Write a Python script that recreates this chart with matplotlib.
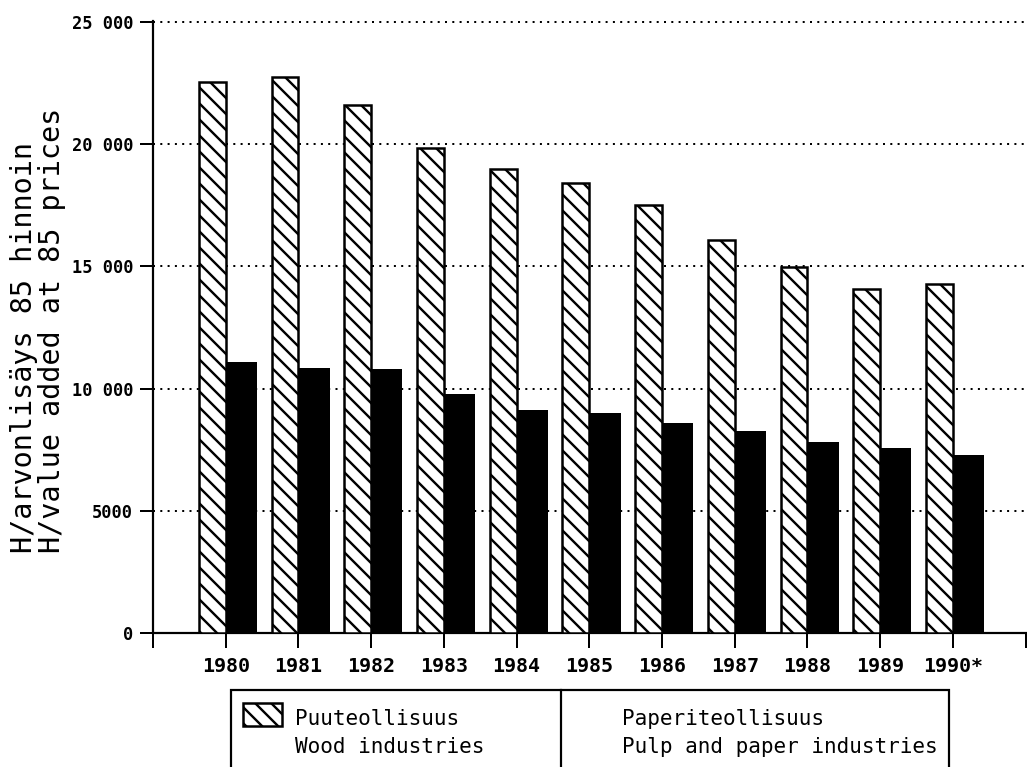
"""Arvonlisäys puu- ja paperiteollisuudessa 1980-1990 (85 hinnoin)."""
import matplotlib
matplotlib.use("Agg")
import matplotlib.pyplot as plt
from matplotlib.patches import Rectangle
from matplotlib.lines import Line2D
import numpy as np

years = ["1980", "1981", "1982", "1983", "1984", "1985",
         "1986", "1987", "1988", "1989", "1990*"]
wood = [22550, 22760, 21600, 19830, 18970, 18430, 17520, 16100, 14960, 14060, 14260]
pulp = [11090, 10860, 10790, 9770, 9140, 9000, 8590, 8250, 7800, 7560, 7270]
yticks = [0, 5000, 10000, 15000, 20000, 25000]
ytick_labels = ["0", "5000", "10 000", "15 000", "20 000", "25 000"]

ylabel = "H/arvonlisäys 85 hinnoin\nH/value added at 85 prices"
legend_fi = ["Puuteollisuus", "Paperiteollisuus"]
legend_en = ["Wood industries", "Pulp and paper industries"]

DPI = 96
PX = 72 / DPI  # pistettä per pikseli
plt.rcParams["hatch.linewidth"] = 2.4 * PX
plt.rcParams["lines.scale_dashes"] = False
MONO = ["DejaVu Sans Mono"]

W, H = 1027, 767
fig = plt.figure(figsize=(W / DPI, H / DPI), dpi=DPI)
ax = fig.add_axes([153 / W, 1 - 633 / H, (1025.6 - 153) / W, (633 - 21) / H])

x = np.arange(len(years))
ax.bar(x, wood, width=-0.37, align="edge", color="white", edgecolor="black",
       linewidth=2.5 * PX, hatch="\\\\", zorder=3)
ax.bar(x, pulp, width=0.43, align="edge", color="black", edgecolor="black",
       linewidth=0, zorder=3)

ax.set_xlim(-1, 11)
ax.set_ylim(0, 25040)

ax.set_yticks(yticks)
ax.set_yticklabels(ytick_labels, family=MONO, fontweight="bold", fontsize=17 * PX)
ax.set_xticks(np.arange(-1, 12))
ax.set_xticklabels([""] + years + [""], family=MONO, fontweight="bold",
                   fontsize=20 * PX)

ax.tick_params(axis="y", direction="out", length=13 * PX, width=2 * PX, pad=7 * PX)
ax.tick_params(axis="x", direction="out", length=15 * PX, width=2 * PX, pad=9 * PX)

for side in ["top", "right"]:
    ax.spines[side].set_visible(False)
for side in ["left", "bottom"]:
    ax.spines[side].set_linewidth(2.2 * PX)

ax.yaxis.grid(True, color="black", linewidth=2 * PX,
              linestyle=(0, (2 * PX, 5.3 * PX)))
ax.set_axisbelow(True)

fig.text(38 / W, 1 - 330 / H, ylabel, rotation=90, ha="center", va="center",
         multialignment="left", family=MONO, fontsize=28.5 * PX, linespacing=0.98)

# selite: laatikko jakoviivalla, jatkuu kuvan alareunan yli
box = Rectangle((231 / W, -0.05), (949 - 231) / W, 0.05 + (767 - 690) / H,
                transform=fig.transFigure, facecolor="none", edgecolor="black",
                linewidth=2.2 * PX, clip_on=False)
fig.add_artist(box)
fig.add_artist(Line2D([561 / W, 561 / W], [-0.05, (767 - 690) / H],
                      transform=fig.transFigure, color="black", linewidth=2.2 * PX))
swatch = Rectangle((243 / W, 1 - 726 / H), 39 / W, 23 / H,
                   transform=fig.transFigure, facecolor="white", edgecolor="black",
                   linewidth=2.5 * PX, hatch="\\\\")
fig.add_artist(swatch)

for x0, fi, en in zip([295, 622], legend_fi, legend_en):
    fig.text(x0 / W, 1 - 725 / H, fi, family=MONO, fontsize=21 * PX, va="baseline")
    fig.text(x0 / W, 1 - 753 / H, en, family=MONO, fontsize=21 * PX, va="baseline")

fig.savefig("out.png", dpi=DPI)
